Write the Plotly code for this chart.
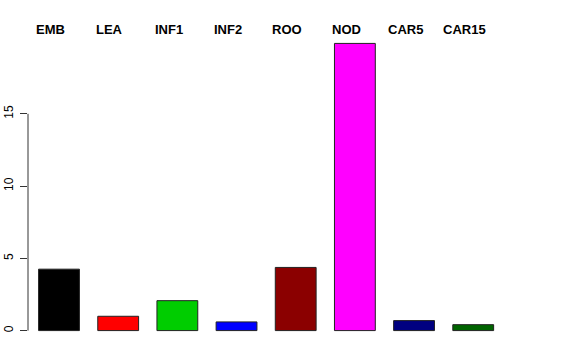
import plotly.graph_objects as go

categories = ["EMB", "LEA", "INF1", "INF2", "ROO", "NOD", "CAR5", "CAR15"]
values = [4.25, 0.99, 2.07, 0.60, 4.37, 19.87, 0.69, 0.41]
colors = ["#000000", "#FF0000", "#00CD00", "#0000FF", "#8B0000", "#FF00FF", "#000080", "#006400"]
y_ticks = [0, 5, 10, 15]

W, H = 576, 360
ml, mr, mt, mb = 28, 72, 31.5, 17.5
plot_h = H - mt - mb

xs = list(range(len(categories)))

fig = go.Figure()
fig.add_trace(go.Bar(
    x=xs, y=values, width=0.69,
    marker=dict(color=colors, line=dict(color="#222222", width=1)),
    showlegend=False, hoverinfo="skip",
))

# category labels above the plot
for i, c in enumerate(categories):
    fig.add_annotation(
        x=i - 0.14, xref="x", y=1 + 2.5 / plot_h, yref="paper",
        text=c, showarrow=False, xanchor="center", yanchor="middle",
        font=dict(family="Liberation Sans, Arial, sans-serif", size=13, color="black", weight="bold"),
    )

# y axis line only spanning the tick range (R style)
fig.add_shape(type="line", xref="paper", yref="y", x0=0, x1=0,
              y0=min(y_ticks), y1=max(y_ticks), line=dict(color="#333333", width=1))

fig.update_layout(
    width=W, height=H,
    margin=dict(l=ml, r=mr, t=mt, b=mb, pad=0, autoexpand=False),
    paper_bgcolor="white", plot_bgcolor="white",
    xaxis=dict(range=[-0.524, 7.52], showticklabels=False, showgrid=False,
               zeroline=False, showline=False, ticks="", automargin=False),
    yaxis=dict(range=[-0.79, 20.66], tickvals=y_ticks, ticktext=[str(v) for v in y_ticks],
               ticks="outside", ticklen=7, tickcolor="#333333", tickwidth=1,
               tickangle=-90, showgrid=False, zeroline=False, showline=False,
               automargin=False, ticklabelstandoff=2,
               tickfont=dict(family="Liberation Sans, Arial, sans-serif", size=12, color="black")),
)

fig.write_html("out.html")
